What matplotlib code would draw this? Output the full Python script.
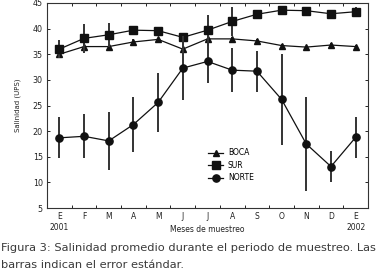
import matplotlib
matplotlib.use("Agg")
import matplotlib.pyplot as plt
from matplotlib import font_manager

months = ["E\n2001", "F", "M", "A", "M", "J", "J", "A", "S", "O", "N", "D", "E\n2002"]

boca = [35.0, 36.5, 36.5, 37.4, 37.9, 36.0, 38.0, 38.0, 37.6, 36.7, 36.4, 36.8, 36.5]
boca_err = [0.7, 0.9, 0.3, 0.6, 0.3, 0.3, 0.3, 0.3, 0.3, 0.3, 0.3, 0.3, 0.3]
sur = [36.0, 38.1, 38.8, 39.7, 39.6, 38.3, 39.7, 41.4, 42.8, 43.6, 43.5, 42.9, 43.3]
sur_err = [1.8, 2.9, 2.3, 0.3, 0.8, 0.3, 3.0, 2.9, 0.8, 0.6, 0.8, 0.8, 1.0]
norte = [18.7, 19.0, 18.1, 21.3, 25.6, 32.3, 33.6, 31.9, 31.7, 26.2, 17.5, 13.1, 18.8]
norte_err = [4.0, 4.3, 5.7, 5.3, 5.7, 6.3, 4.2, 4.3, 4.0, 8.8, 9.2, 3.0, 4.0]

names = {f.name for f in font_manager.fontManager.ttflist}
cap_font = "Liberation Sans Narrow" if "Liberation Sans Narrow" in names else "DejaVu Sans"

fig = plt.figure(figsize=(3.84, 2.72), dpi=100)
ax = fig.add_axes([0.1224, 0.235, 0.836, 0.754])

x = list(range(len(months)))
ink = "#111111"
for y, e, m, ms, lab in [(boca, boca_err, "^", 4.3, "BOCA"),
                         (sur, sur_err, "s", 5.3, "SUR"),
                         (norte, norte_err, "o", 5.2, "NORTE")]:
    ax.errorbar(x, y, yerr=e, fmt="none", ecolor="#333333", elinewidth=1.4, capsize=0)
    ax.plot(x, y, marker=m, ms=ms, color=ink, lw=0.9, label=lab)

ax.set_xlim(-0.48, 12.5)
ax.set_ylim(5, 45)
ax.set_yticks(range(5, 46, 5))
ax.set_xticks([i - 0.5 for i in range(14)])
ax.set_xticklabels([])
ax.set_xticks(x, minor=True)
ax.set_xticklabels(months, minor=True, fontsize=5.5, color="#222222")
ax.tick_params(axis="x", which="minor", length=0, pad=3)
ax.tick_params(axis="x", which="major", direction="in", length=2, top=True, width=0.6)
ax.tick_params(axis="y", direction="in", length=2, right=True, width=0.6,
               labelsize=5.8, labelcolor="#222222", pad=3)
for s in ax.spines.values():
    s.set_linewidth(0.8)
    s.set_color("#333333")

ax.set_ylabel("Salinidad (UPS)", fontsize=5, color="#222222", labelpad=8)
ax.set_xlabel("Meses de muestreo", fontsize=5.5, color="#222222", labelpad=-5)

ax.legend(loc="upper left", bbox_to_anchor=(0.49, 0.31), frameon=False,
          fontsize=5.5, handlelength=2.0, handletextpad=0.6, labelspacing=0.45,
          borderpad=0)

fig.text(0.003, 0.09, "Figura 3: Salinidad promedio durante el periodo de muestreo. Las",
         fontsize=8.2, family=cap_font, color="#3a3a3a", va="center")
fig.text(0.003, 0.025, "barras indican el error estándar.",
         fontsize=8.2, family=cap_font, color="#3a3a3a", va="center")

fig.savefig("out.png", dpi=100)
